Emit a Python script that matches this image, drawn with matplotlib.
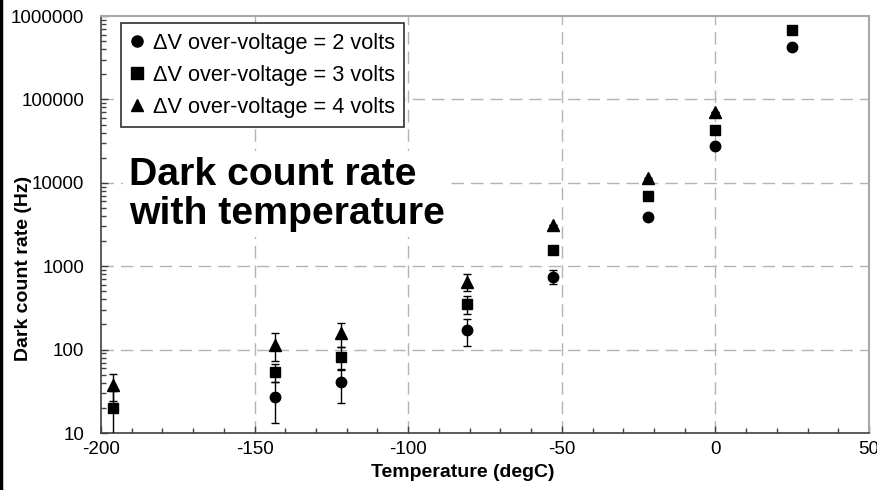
import matplotlib
matplotlib.use("Agg")
import matplotlib.pyplot as plt
from matplotlib.ticker import FixedLocator, LogLocator, NullFormatter, FuncFormatter
from matplotlib.lines import Line2D
import numpy as np

plt.rcParams['font.family'] = ['Liberation Sans', 'DejaVu Sans']

# Data
temps_2v = [-143.5, -122, -81, -53, -22, 0, 25]
rate_2v = [27, 41, 172, 750, 3880, 27700, 424000]
err_2v = [14, 18, 62, 140, 0, 0, 0]

temps_3v = [-196, -143.5, -122, -81, -53, -22, 0, 25]
rate_3v = [20, 54, 82, 350, 1560, 6950, 43000, 682000]
err_3v = [12, 13, 25, 85, 0, 0, 0, 0]

temps_4v = [-196, -143.5, -122, -81, -53, -22, 0]
rate_4v = [38, 115, 158, 655, 3100, 11500, 70100]
err_4v = [13.6, 42, 50, 150, 0, 0, 0]

labels = ["\u0394V over-voltage = 2 volts",
          "\u0394V over-voltage = 3 volts",
          "\u0394V over-voltage = 4 volts"]
x_ticks = [-200, -150, -100, -50, 0, 50]
y_ticks = [10, 100, 1000, 10000, 100000, 1000000]

fig = plt.figure(figsize=(8.77, 4.90), dpi=100)
ax = fig.add_axes([101/877, 1-433/490, 768/877, 417/490])

ax.set_yscale('log')
ax.set_xlim(-200, 50)
ax.set_ylim(10, 1e6)

grid_kw = dict(color='#b4b4b4', lw=1.0, dashes=(9, 5))
for xv in x_ticks[1:-1]:
    ax.axvline(xv, zorder=0, **grid_kw)
for yv in y_ticks[1:-1]:
    ax.axhline(yv, zorder=0, **grid_kw)

ebkw = dict(ecolor='black', elinewidth=1.0, capsize=3, capthick=1.0, ls='none', color='black', zorder=3)
def clip_err(r, e):
    r = np.array(r, float); e = np.array(e, float)
    lo = np.minimum(e, r - 1e-3)
    return [lo, e]

ax.errorbar(temps_2v, rate_2v, yerr=clip_err(rate_2v, err_2v), marker='o', ms=7.5, **ebkw)
ax.errorbar(temps_3v, rate_3v, yerr=clip_err(rate_3v, err_3v), marker='s', ms=7.5, **ebkw)
ax.errorbar(temps_4v, rate_4v, yerr=clip_err(rate_4v, err_4v), marker='^', ms=8, **ebkw)

# ticks
ax.xaxis.set_major_locator(FixedLocator(x_ticks))
ax.xaxis.set_minor_locator(FixedLocator(np.arange(-200, 51, 10)))
ax.yaxis.set_major_locator(FixedLocator(y_ticks))
ax.yaxis.set_minor_locator(LogLocator(base=10, subs=np.arange(2, 10)))
ax.yaxis.set_minor_formatter(NullFormatter())
ax.yaxis.set_major_formatter(FuncFormatter(lambda v, p: f"{int(round(v))}"))
ax.xaxis.set_major_formatter(FuncFormatter(lambda v, p: f"{int(round(v))}"))
ax.tick_params(axis='both', which='major', direction='in', length=5, width=1, color='#404040',
               labelsize=13.5)
ax.tick_params(axis='y', which='major', pad=12)
ax.tick_params(axis='x', which='major', pad=5.5)
ax.tick_params(axis='both', which='minor', direction='in', length=3.5, width=1, color='#404040')
ax.tick_params(top=False, right=False, which='both')

for s in ['left', 'bottom']:
    ax.spines[s].set_color('#404040')
    ax.spines[s].set_linewidth(1.2)
for s in ['top', 'right']:
    ax.spines[s].set_color('#a8a8a8')
    ax.spines[s].set_linewidth(1.5)

ax.set_xlabel("Temperature (degC)", fontsize=14, fontweight='bold')
ax.xaxis.set_label_coords((463-101)/768, (433-464)/417)
ax.set_ylabel("Dark count rate (Hz)", fontsize=14, fontweight='bold')
ax.yaxis.set_label_coords((32-101)/768, 1-(268-16)/417)

# legend
handles = [Line2D([], [], ls='none', marker='o', color='black', ms=8),
           Line2D([], [], ls='none', marker='s', color='black', ms=8),
           Line2D([], [], ls='none', marker='^', color='black', ms=8.5)]
leg = ax.legend(handles, labels, loc='upper left', bbox_to_anchor=((121-101)/768, 1-(23-16)/417),
                fontsize=15.7, frameon=True, fancybox=False, handlelength=0.6, handletextpad=0.4,
                borderpad=0.45, labelspacing=0.5, borderaxespad=0)
leg.get_frame().set_edgecolor('#303030')
leg.get_frame().set_linewidth(1.2)
leg.get_frame().set_facecolor('white')
leg.get_frame().set_alpha(1)
leg.set_zorder(5)

ax.text((129-101)/768, 1-(157-16)/417, "Dark count rate\nwith temperature", transform=ax.transAxes,
        fontsize=28.3, fontweight='bold', ha='left', va='top', linespacing=1.1,
        bbox=dict(facecolor='white', edgecolor='none', pad=4), zorder=4)

# left frame line of the image
fig.add_artist(Line2D([1/877, 1/877], [0, 1], transform=fig.transFigure, color='black', lw=2.5))

fig.savefig("out.png", dpi=100)
